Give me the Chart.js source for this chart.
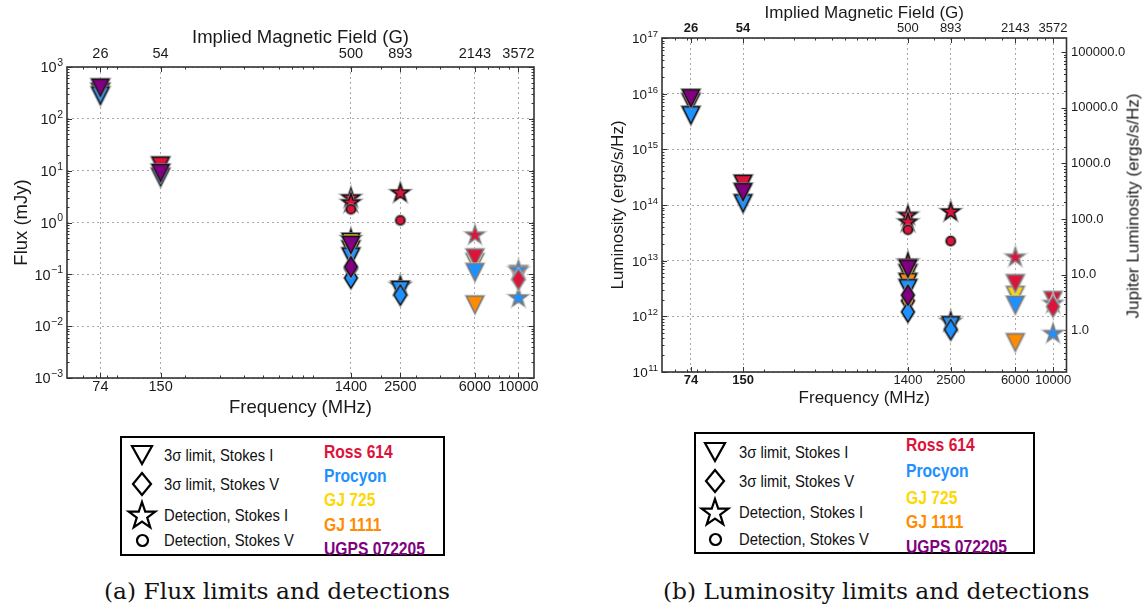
<!DOCTYPE html>
<html>
<head>
<meta charset="utf-8">
<script src="https://cdn.jsdelivr.net/npm/chart.js@4.4.1/dist/chart.umd.min.js"></script>
<style>
  html, body { margin: 0; padding: 0; background: #fff; }
  #fig { position: relative; width: 1143px; height: 609px; overflow: hidden; background: #fff;
         font-family: 'Liberation Sans', Arial, sans-serif; color: #111; }
  canvas { position: absolute; top: 0; }
  #fluxCanvas { left: 0; }
  #lumCanvas { left: 580px; }
  .key { position: absolute; border: 2px solid #000; box-sizing: border-box; background: #fff; }
  .key svg { position: absolute; overflow: visible; }
  .key .lab, .key .name { position: absolute; white-space: nowrap; line-height: 1;
         transform-origin: 0 50%; }
  .key .lab { font-size: 17px; color: #111; }
  .key .name { font-size: 18px; font-weight: bold; }
  .cap { position: absolute; white-space: nowrap; line-height: 1; transform-origin: 0 50%;
         transform: translateY(-50%) scaleX(1.06);
         font-family: 'DejaVu Serif', 'Liberation Serif', serif; font-size: 22px; color: #111; }
  .ytitle2 { position: absolute; white-space: nowrap; line-height: 1; font-size: 17px; color: #1a1a1a;
         transform: translate(-50%, -50%) rotate(-90deg); }
</style>
</head>
<body>
<div id="fig">
  <canvas id="fluxCanvas" width="560" height="420"></canvas>
  <canvas id="lumCanvas" width="563" height="420"></canvas>
  <div class="ytitle2" style="left:1133px; top:206px;">Jupiter Luminosity (ergs/s/Hz)</div>
  <div class="cap" style="left:104px; top:592px;">(a) Flux limits and detections</div>
  <div class="cap" style="left:663px; top:592px;">(b) Luminosity limits and detections</div>
</div>
<script>
// ---- axes ----
const FREQS = [74, 150, 1400, 2500, 6000, 10000];              // MHz
const FIELD_LABELS = ['26', '54', '500', '893', '2143', '3572']; // G, at the frequencies above
const FLUX_TICKS = [1e-3, 1e-2, 1e-1, 1e0, 1e1, 1e2, 1e3];
const LUM_TICKS = [1e11, 1e12, 1e13, 1e14, 1e15, 1e16, 1e17];
const JUP_TICKS = [1, 10, 100, 1000, 10000, 100000];
const JUPITER_LUM = 5.6e11;   // erg/s/Hz, one Jupiter unit

// ---- targets ----
const STAR_NAMES = ['Ross 614', 'Procyon', 'GJ 725', 'GJ 1111', 'UGPS 072205'];
const STAR_COLORS = ['#DC143C', '#1E90FF', '#FFD700', '#FF8C00', '#800080'];
const KEY_LABELS = ['3σ limit, Stokes I', '3σ limit, Stokes V', 'Detection, Stokes I', 'Detection, Stokes V'];

// ---- flux density (mJy), [frequency MHz, value] ----
const ross614FluxLimI = [[74, 330], [150, 12.5], [6000, 0.21], [10000, 0.1]];
const ross614FluxLimV = [[10000, 0.08]];
const ross614FluxDetI = [[1400, 3.0], [1400, 2.4], [1400, 0.48], [2500, 3.7], [6000, 0.57]];
const ross614FluxDetV = [[1400, 1.8], [2500, 1.1]];
const procyonFluxLimI = [[74, 280], [150, 7.5], [1400, 0.22], [2500, 0.05], [6000, 0.11]];
const procyonFluxLimV = [[1400, 0.085], [2500, 0.04]];
const procyonFluxDetI = [[2500, 0.06], [10000, 0.12], [10000, 0.035]];
const gj725FluxLimI = [[1400, 0.42], [6000, 0.17]];
const gj1111FluxLimI = [[1400, 0.3], [6000, 0.026]];
const gj1111FluxLimV = [[1400, 0.13]];
const ugpsFluxLimI = [[74, 400], [150, 9], [1400, 0.37]];
const ugpsFluxLimV = [[1400, 0.14]];

// ---- spectral luminosity (erg/s/Hz), [frequency MHz, value] ----
const ross614LumLimI = [[74, 7.0e15], [150, 2.4e14], [6000, 3.9e12], [10000, 1.95e12]];
const ross614LumLimV = [[10000, 1.5e12]];
const ross614LumDetI = [[1400, 6.5e13], [1400, 4.9e13], [1400, 9.3e12], [2500, 7.5e13], [6000, 1.15e13]];
const ross614LumDetV = [[1400, 3.6e13], [2500, 2.25e13]];
const procyonLumLimI = [[74, 4.1e15], [150, 1.07e14], [1400, 3.2e12], [2500, 6.9e11], [6000, 1.6e12]];
const procyonLumLimV = [[1400, 1.2e12], [2500, 5.8e11]];
const procyonLumDetI = [[2500, 8.0e11], [10000, 1.7e12], [10000, 4.9e11]];
const gj725LumLimI = [[1400, 5.9e12], [6000, 2.4e12]];
const gj1111LumLimI = [[1400, 4.1e12], [6000, 3.4e11]];
const gj1111LumLimV = [[1400, 1.9e12]];
const ugpsLumLimI = [[74, 8.3e15], [150, 1.7e14], [1400, 7.2e12]];
const ugpsLumLimV = [[1400, 2.4e12]];

// drawing layers, listed bottom to top: [points, target index, marker]
const FLUX_LAYERS = [
  [ross614FluxDetI, 0, 'star'], [ross614FluxDetV, 0, 'circ'],
  [gj725FluxLimI, 2, 'tri'], [gj1111FluxLimI, 3, 'tri'], [ross614FluxLimI, 0, 'tri'],
  [procyonFluxDetI, 1, 'star'], [procyonFluxLimI, 1, 'tri'],
  [gj1111FluxLimV, 3, 'dia'], [procyonFluxLimV, 1, 'dia'], [ross614FluxLimV, 0, 'dia'],
  [ugpsFluxLimI, 4, 'tri'], [ugpsFluxLimV, 4, 'dia']
];
const LUM_LAYERS = [
  [ross614LumDetI, 0, 'star'], [ross614LumDetV, 0, 'circ'],
  [gj725LumLimI, 2, 'tri'], [gj1111LumLimI, 3, 'tri'], [ross614LumLimI, 0, 'tri'],
  [procyonLumDetI, 1, 'star'], [procyonLumLimI, 1, 'tri'],
  [gj1111LumLimV, 3, 'dia'], [procyonLumLimV, 1, 'dia'], [ross614LumLimV, 0, 'dia'],
  [ugpsLumLimI, 4, 'tri'], [ugpsLumLimV, 4, 'dia']
];

// ---- marker sprites ----
const EDGE_DARK = '#111';
const EDGE_GREY = '#7a7a7a';
const spriteCache = {};
function markerPath(ctx, shape) {
  ctx.beginPath();
  if (shape === 'tri') {          // downward-pointing triangle
    ctx.moveTo(0, 8.5); ctx.lineTo(-8.5, -8.5); ctx.lineTo(8.5, -8.5);
  } else if (shape === 'dia') {   // thin diamond
    ctx.moveTo(0, -10); ctx.lineTo(6.2, 0); ctx.lineTo(0, 10); ctx.lineTo(-6.2, 0);
  } else if (shape === 'star') {  // five-pointed star
    for (let i = 0; i < 10; i++) {
      const r = i % 2 ? 3.5 : 9;
      const a = -Math.PI / 2 + i * Math.PI / 5;
      ctx[i ? 'lineTo' : 'moveTo'](r * Math.cos(a), r * Math.sin(a));
    }
  } else {                        // circle
    ctx.arc(0, 0, 4.4, 0, Math.PI * 2);
  }
  ctx.closePath();
}
function sprite(shape, fill, edge) {
  const key = shape + fill + edge;
  if (spriteCache[key]) return spriteCache[key];
  const c = document.createElement('canvas');
  c.width = 30; c.height = 30;
  const g = c.getContext('2d');
  g.translate(15, 15);
  g.lineJoin = 'miter';
  markerPath(g, shape);
  g.fillStyle = fill; g.fill();
  g.strokeStyle = edge === EDGE_DARK ? 'rgba(150,150,150,0.8)' : 'rgba(200,200,200,0.8)';
  g.lineWidth = 3.2; g.stroke();
  markerPath(g, shape);
  g.fillStyle = fill; g.fill();
  g.strokeStyle = edge; g.lineWidth = 1.4; g.stroke();
  spriteCache[key] = c;
  return c;
}

function buildDatasets(layers) {
  // Chart.js paints dataset 0 last, so reverse the bottom-to-top list
  return layers.slice().reverse().map(([pts, s, shape]) => ({
    label: STAR_NAMES[s],
    data: pts.map(([f, v]) => ({ x: f, y: v })),
    pointRadius: 8,
    pointStyle: ctx => sprite(shape, STAR_COLORS[s], ctx.raw && ctx.raw.x >= 6000 ? EDGE_GREY : EDGE_DARK),
    showLine: false
  }));
}

const FAMILY = "'Liberation Sans', 'DejaVu Sans', Arial, sans-serif";
const INK = '#1a1a1a';
const GRID_COLOR = '#a8a8a8';

function minorValues(min, max) {
  const out = [];
  for (let k = Math.floor(Math.log10(min)); k <= Math.ceil(Math.log10(max)); k++) {
    for (let n = 2; n <= 9; n++) {
      const v = n * Math.pow(10, k);
      if (v > min && v < max) out.push(v);
    }
  }
  return out;
}

// frame and inward tick marks on all four sides
const frameTicks = {
  id: 'frameTicks',
  beforeDatasetsDraw(chart) {
    const { ctx, chartArea: a, scales } = chart;
    const xs = scales.x, ys = scales.y, yr = scales.y2 || scales.y;
    ctx.save();
    ctx.strokeStyle = '#333';
    ctx.lineWidth = 1;
    ctx.beginPath();
    const tickX = (v, len) => {
      const p = Math.round(xs.getPixelForValue(v)) + 0.5;
      ctx.moveTo(p, a.bottom); ctx.lineTo(p, a.bottom - len);
      ctx.moveTo(p, a.top); ctx.lineTo(p, a.top + len);
    };
    const tickY = (s, v, len, side) => {
      const p = Math.round(s.getPixelForValue(v)) + 0.5;
      if (side === 'left') { ctx.moveTo(a.left, p); ctx.lineTo(a.left + len, p); }
      else { ctx.moveTo(a.right, p); ctx.lineTo(a.right - len, p); }
    };
    minorValues(xs.min, xs.max).forEach(v => tickX(v, 2.5));
    FREQS.forEach(v => tickX(v, 5));
    minorValues(ys.min, ys.max).forEach(v => tickY(ys, v, 2.5, 'left'));
    ys.ticks.forEach(t => tickY(ys, t.value, 5, 'left'));
    minorValues(yr.min, yr.max).forEach(v => tickY(yr, v, 2.5, 'right'));
    yr.ticks.forEach(t => tickY(yr, t.value, 5, 'right'));
    ctx.stroke();
    ctx.lineWidth = 1.6;
    ctx.strokeRect(a.left, a.top, a.right - a.left, a.bottom - a.top);
    ctx.restore();
  }
};

// power-of-ten labels on the left axis: "10" with a raised exponent
const powerLabels = {
  id: 'powerLabels',
  afterDraw(chart, args, opts) {
    const s = chart.scales.y, ctx = chart.ctx;
    ctx.save();
    ctx.fillStyle = INK;
    ctx.textAlign = 'right';
    ctx.textBaseline = 'alphabetic';
    s.ticks.forEach(t => {
      const y = s.getPixelForValue(t.value);
      const exp = String(Math.round(Math.log10(t.value))).replace('-', '\u2212');
      const xr = s.right - 4;
      ctx.font = opts.expSize + 'px ' + FAMILY;
      const ew = ctx.measureText(exp).width;
      ctx.fillText(exp, xr, y - opts.baseSize * 0.08);
      ctx.font = opts.baseSize + 'px ' + FAMILY;
      ctx.fillText('10', xr - ew - 0.5, y + opts.baseSize * 0.36);
    });
    ctx.restore();
  }
};

function freqAxis(o) {
  return {
    type: 'logarithmic', position: 'bottom', min: 50, max: 12000,
    afterBuildTicks: s => { s.ticks = FREQS.map(v => ({ value: v })); },
    afterFit: s => { s.height = o.height; },
    ticks: { callback: v => String(v), autoSkip: false, maxRotation: 0, minRotation: 0,
             padding: o.pad, color: INK, font: o.font },
    grid: { color: GRID_COLOR, lineWidth: 1, drawTicks: false },
    border: { display: false, dash: [2, 3] },
    title: { display: true, text: 'Frequency (MHz)', color: INK, font: o.titleFont,
             padding: { top: 0, bottom: o.titlePad } }
  };
}
function fieldAxis(o) {
  return {
    type: 'logarithmic', position: 'top', min: 50, max: 12000,
    afterBuildTicks: s => { s.ticks = FREQS.map(v => ({ value: v })); },
    afterFit: s => { s.height = o.height; },
    ticks: { callback: (v, i) => FIELD_LABELS[i], autoSkip: false, maxRotation: 0, minRotation: 0,
             padding: o.pad, color: INK, font: o.font },
    grid: { drawOnChartArea: false, drawTicks: false },
    border: { display: false },
    title: { display: true, text: 'Implied Magnetic Field (G)', color: INK, font: o.titleFont,
             padding: { top: o.titlePad, bottom: 0 } }
  };
}
function powerAxis(o) {
  return {
    type: 'logarithmic', position: 'left', min: o.ticks[0], max: o.ticks[o.ticks.length - 1],
    afterBuildTicks: s => { s.ticks = o.ticks.map(v => ({ value: v })); },
    afterFit: s => { s.width = o.width; },
    // labels are painted by the powerLabels plugin
    ticks: { callback: () => '', autoSkip: false, padding: 4 },
    grid: { color: GRID_COLOR, lineWidth: 1, drawTicks: false },
    border: { display: false, dash: [2, 3] },
    title: { display: true, text: o.title, color: INK, font: o.titleFont,
             padding: { top: o.titlePad, bottom: 0 } }
  };
}

// panel (a): 14.5px ticks, 18.5px titles; panel (b): 13px ticks, 17px titles
const A_TICK = { family: FAMILY, size: 14.5 };
const A_TITLE = { family: FAMILY, size: 18.5 };
const B_TICK = { family: FAMILY, size: 13 };
const B_TITLE = { family: FAMILY, size: 17 };
const bBoldFirstTwo = ctx => ({ family: FAMILY, size: 13, weight: ctx.index < 2 ? 'bold' : 'normal' });

function baseOptions(pow) {
  return {
    responsive: false, animation: false, events: [],
    plugins: { legend: { display: false }, tooltip: { enabled: false }, powerLabels: pow }
  };
}

new Chart(document.getElementById('fluxCanvas'), {
  type: 'scatter',
  data: { datasets: buildDatasets(FLUX_LAYERS) },
  options: Object.assign(baseOptions({ baseSize: 14.5, expSize: 10.5 }), {
    layout: { padding: { left: 0, right: 26, top: 0, bottom: 0 } },
    scales: {
      x: freqAxis({ height: 42, pad: 0.5, titlePad: 1.4, font: A_TICK, titleFont: A_TITLE }),
      xTop: fieldAxis({ height: 67, pad: 4.3, titlePad: 26.9, font: A_TICK, titleFont: A_TITLE }),
      y: powerAxis({ ticks: FLUX_TICKS, width: 67, title: 'Flux (mJy)', titlePad: 10.4, titleFont: A_TITLE })
    }
  }),
  plugins: [frameTicks, powerLabels]
});

new Chart(document.getElementById('lumCanvas'), {
  type: 'scatter',
  data: { datasets: buildDatasets(LUM_LAYERS) },
  options: Object.assign(baseOptions({ baseSize: 13.5, expSize: 9.5 }), {
    layout: { padding: 0 },
    scales: {
      x: freqAxis({ height: 48, pad: 0.2, titlePad: 11.5, font: bBoldFirstTwo, titleFont: B_TITLE }),
      xTop: fieldAxis({ height: 38, pad: 1.9, titlePad: 3.1, font: bBoldFirstTwo, titleFont: B_TITLE }),
      y: powerAxis({ ticks: LUM_TICKS, width: 82, title: 'Luminosity (ergs/s/Hz)', titlePad: 27.8, titleFont: B_TITLE }),
      y2: {
        type: 'logarithmic', position: 'right',
        min: LUM_TICKS[0] / JUPITER_LUM, max: LUM_TICKS[LUM_TICKS.length - 1] / JUPITER_LUM,
        afterBuildTicks: s => { s.ticks = JUP_TICKS.map(v => ({ value: v })); },
        afterFit: s => { s.width = 76.5; },
        ticks: { callback: v => v.toFixed(1), autoSkip: false, padding: 4.5, color: INK, font: B_TICK },
        grid: { drawOnChartArea: false, drawTicks: false },
        border: { display: false }
      }
    }
  }),
  plugins: [frameTicks, powerLabels]
});

// ---- marker keys under each panel ----
const KEY_SHAPES = [
  { w: 22, h: 20, d: 'M1,1 L21,1 L11,19 Z' },
  { w: 20, h: 24, d: 'M10,1 L19,12 L10,23 L1,12 Z' },
  { w: 28, h: 28, d: '' },
  { w: 13, h: 13, d: '' }
];
function starPath(cx, cy, R, r) {
  let d = '';
  for (let i = 0; i < 10; i++) {
    const rad = i % 2 ? r : R, a = -Math.PI / 2 + i * Math.PI / 5;
    d += (i ? 'L' : 'M') + (cx + rad * Math.cos(a)).toFixed(2) + ',' + (cy + rad * Math.sin(a)).toFixed(2);
  }
  return d + 'Z';
}
KEY_SHAPES[2].d = starPath(14, 15, 14, 5.5);
function buildKey(k) {
  const fig = document.getElementById('fig');
  const box = document.createElement('div');
  box.className = 'key';
  Object.assign(box.style, { left: k.l + 'px', top: k.t + 'px', width: k.w + 'px', height: k.h + 'px' });
  fig.appendChild(box);
  KEY_LABELS.forEach((txt, i) => {
    const sh = KEY_SHAPES[i];
    const svg = document.createElementNS('http://www.w3.org/2000/svg', 'svg');
    svg.setAttribute('width', sh.w); svg.setAttribute('height', sh.h);
    svg.style.left = (k.symX - k.l - sh.w / 2) + 'px';
    svg.style.top = (k.rows[i] - k.t - sh.h / 2) + 'px';
    const el = document.createElementNS('http://www.w3.org/2000/svg', i === 3 ? 'circle' : 'path');
    if (i === 3) { el.setAttribute('cx', 6.5); el.setAttribute('cy', 6.5); el.setAttribute('r', 5.5); }
    else el.setAttribute('d', sh.d);
    el.setAttribute('fill', 'none'); el.setAttribute('stroke', '#000'); el.setAttribute('stroke-width', 2.2);
    svg.appendChild(el);
    box.appendChild(svg);
    const lab = document.createElement('div');
    lab.className = 'lab';
    lab.textContent = txt;
    lab.style.left = (k.textX - k.l) + 'px';
    lab.style.top = (k.rows[i] - k.t) + 'px';
    lab.style.transform = 'translateY(-50%) scaleX(0.87)';
    box.appendChild(lab);
  });
  STAR_NAMES.forEach((name, i) => {
    const el = document.createElement('div');
    el.className = 'name';
    el.textContent = name;
    el.style.color = STAR_COLORS[i];
    el.style.left = (k.nameX - k.l) + 'px';
    el.style.top = (k.names[i] - k.t) + 'px';
    el.style.transform = 'translateY(-50%) scaleX(0.87)';
    box.appendChild(el);
  });
}
buildKey({ l: 120, t: 436, w: 325, h: 120, symX: 140, textX: 162, rows: [453, 482, 513, 538],
           nameX: 322, names: [450, 474, 498, 523, 547] });
buildKey({ l: 694, t: 432, w: 341, h: 122, symX: 713, textX: 737, rows: [450, 479, 510, 537],
           nameX: 904, names: [443, 469, 496, 520, 545] });
</script>
</body>
</html>
